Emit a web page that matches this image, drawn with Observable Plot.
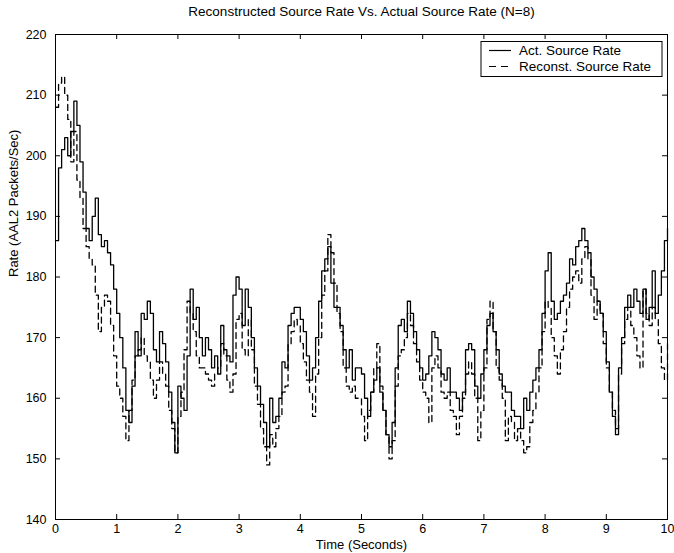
<!DOCTYPE html>
<html><head><meta charset="utf-8">
<script src="https://cdn.jsdelivr.net/npm/d3@7"></script>
<script src="https://cdn.jsdelivr.net/npm/@observablehq/plot@0.6"></script>
<style>
body{margin:0;background:#fff}
#chart{width:674px;height:553px}
</style>
</head><body><div id="chart"></div>
<script>
const titleText = "Reconstructed Source Rate Vs. Actual Source Rate (N=8)";
const xLabel = "Time (Seconds)";
const yLabel = "Rate (AAL2 Packets/Sec)";
const seriesNames = ["Act. Source Rate", "Reconst. Source Rate"];
const xTicks = [0,1,2,3,4,5,6,7,8,9,10];
const yTicks = [140,150,160,170,180,190,200,210,220];
const timeStep = 0.05; // seconds between samples

const actual = [
186,198,201,203,200,204,209,205,199,194,188,186,190,193,187,185,186,184,182,178,
174,170,165,158,156,162,171,167,174,173,176,174,168,166,171,169,166,161,156,151,
162,160,158,167,178,173,175,170,167,170,168,165,167,164,172,168,167,166,177,180,
178,172,178,175,170,165,162,159,156,152,160,156,157,160,166,165,172,174,175,175,
173,171,167,163,165,170,176,181,183,185,179,175,175,172,168,165,168,163,165,165,
164,160,157,161,163,165,161,158,154,152,156,165,172,173,171,176,174,171,168,165,
163,164,167,171,170,168,164,163,165,161,161,160,158,161,168,169,168,162,160,164,
168,172,174,171,168,164,162,161,161,158,157,157,155,160,158,161,163,165,168,174,
181,184,176,173,174,176,177,179,183,182,185,186,188,186,184,180,178,176,174,171,
166,161,157,154,165,170,175,177,175,178,176,174,178,173,175,181,174,177,181,186,
188];

const reconst = [
208,212,213,210,206,199,204,196,193,188,185,183,182,177,171,175,177,176,172,167,
162,160,157,153,158,163,167,168,170,167,166,163,160,163,166,164,162,158,155,151,
157,161,168,176,174,171,167,165,165,164,163,162,164,165,169,167,163,161,164,173,
174,168,167,173,168,162,159,155,152,149,154,152,155,157,161,162,169,171,173,172,
169,166,163,161,157,164,170,177,181,187,184,179,174,171,165,162,161,162,160,160,
157,153,158,161,165,169,162,158,154,150,153,162,167,168,170,174,172,169,166,163,
161,160,156,165,167,165,161,160,161,158,157,154,157,160,164,166,164,160,153,158,
165,173,176,171,165,163,160,153,157,156,153,155,153,151,152,156,158,161,165,171,
176,175,170,167,164,168,171,175,178,180,181,179,183,185,183,177,173,176,174,169,
165,161,158,155,164,169,173,175,172,170,167,165,178,174,172,175,173,169,165,163,
169];

const rowsA = actual.map((v, i) => ({t: i * timeStep, v}));
const rowsR = reconst.map((v, i) => ({t: i * timeStep, v}));

const font = "'Liberation Sans', Arial, Helvetica, sans-serif";
const W = 674, H = 553, mL = 55, mR = 7, mT = 34, mB = 34;
const plotW = W - mL - mR, plotH = H - mT - mB, tk = 5;

const chart = Plot.plot({
  width: W, height: H,
  marginLeft: mL, marginRight: mR, marginTop: mT, marginBottom: mB,
  style: {fontFamily: font, fontSize: "12.5px", color: "#000", background: "#fff"},
  x: {domain: [0, 10]},
  y: {domain: [140, 220]},
  marks: [
    Plot.line(rowsA, {x: "t", y: "v", curve: "step-after", stroke: "#000", strokeWidth: 1.3}),
    Plot.line(rowsR, {x: "t", y: "v", curve: "step-after", stroke: "#000", strokeWidth: 1.3, strokeDasharray: "6,4"}),
    // inward ticks on all four sides
    Plot.tickX(xTicks, {x: d => d, insetTop: plotH - tk, stroke: "#000"}),
    Plot.tickX(xTicks, {x: d => d, insetBottom: plotH - tk, stroke: "#000"}),
    Plot.tickY(yTicks, {y: d => d, insetRight: plotW - tk, stroke: "#000"}),
    Plot.tickY(yTicks, {y: d => d, insetLeft: plotW - tk, stroke: "#000"}),
    Plot.frame({stroke: "#000", strokeWidth: 1}),
    Plot.axisX({anchor: "bottom", ticks: xTicks, tickSize: 0, tickPadding: 5, tickFormat: d3.format("d"),
      label: null}),
    Plot.axisY({anchor: "left", ticks: yTicks, tickSize: 0, tickPadding: 9, tickFormat: d3.format("d"),
      label: null}),
    Plot.text([xLabel], {frameAnchor: "bottom", dy: 20, lineAnchor: "top", fontSize: 13, fill: "#000"}),
    Plot.text([yLabel], {frameAnchor: "left", dx: -42, rotate: -90, fontSize: 13, fill: "#000"}),
    Plot.text([titleText], {frameAnchor: "top", dy: -28, lineAnchor: "top", fontSize: 13.5, fill: "#000"})
  ]
});

// Legend box (top-right inside the frame)
const svg = d3.select(chart);
const lg = svg.append("g").attr("font-family", font).attr("font-size", 13.5).attr("text-anchor", "start");
lg.append("rect").attr("x", 481).attr("y", 41.5).attr("width", 181).attr("height", 35)
  .attr("fill", "#fff").attr("stroke", "#000");
const items = [{name: seriesNames[0], dash: null, y: 50.5}, {name: seriesNames[1], dash: "7,5", y: 66.5}];
items.forEach(it => {
  lg.append("line").attr("x1", 489).attr("x2", 511).attr("y1", it.y).attr("y2", it.y)
    .attr("stroke", "#000").attr("stroke-width", 1.2).attr("stroke-dasharray", it.dash);
  lg.append("text").attr("x", 519).attr("y", it.y).attr("dy", "0.35em").attr("fill", "#000")
    .attr("text-anchor", "start").text(it.name);
});

document.getElementById("chart").appendChild(chart);
</script>
</body></html>
